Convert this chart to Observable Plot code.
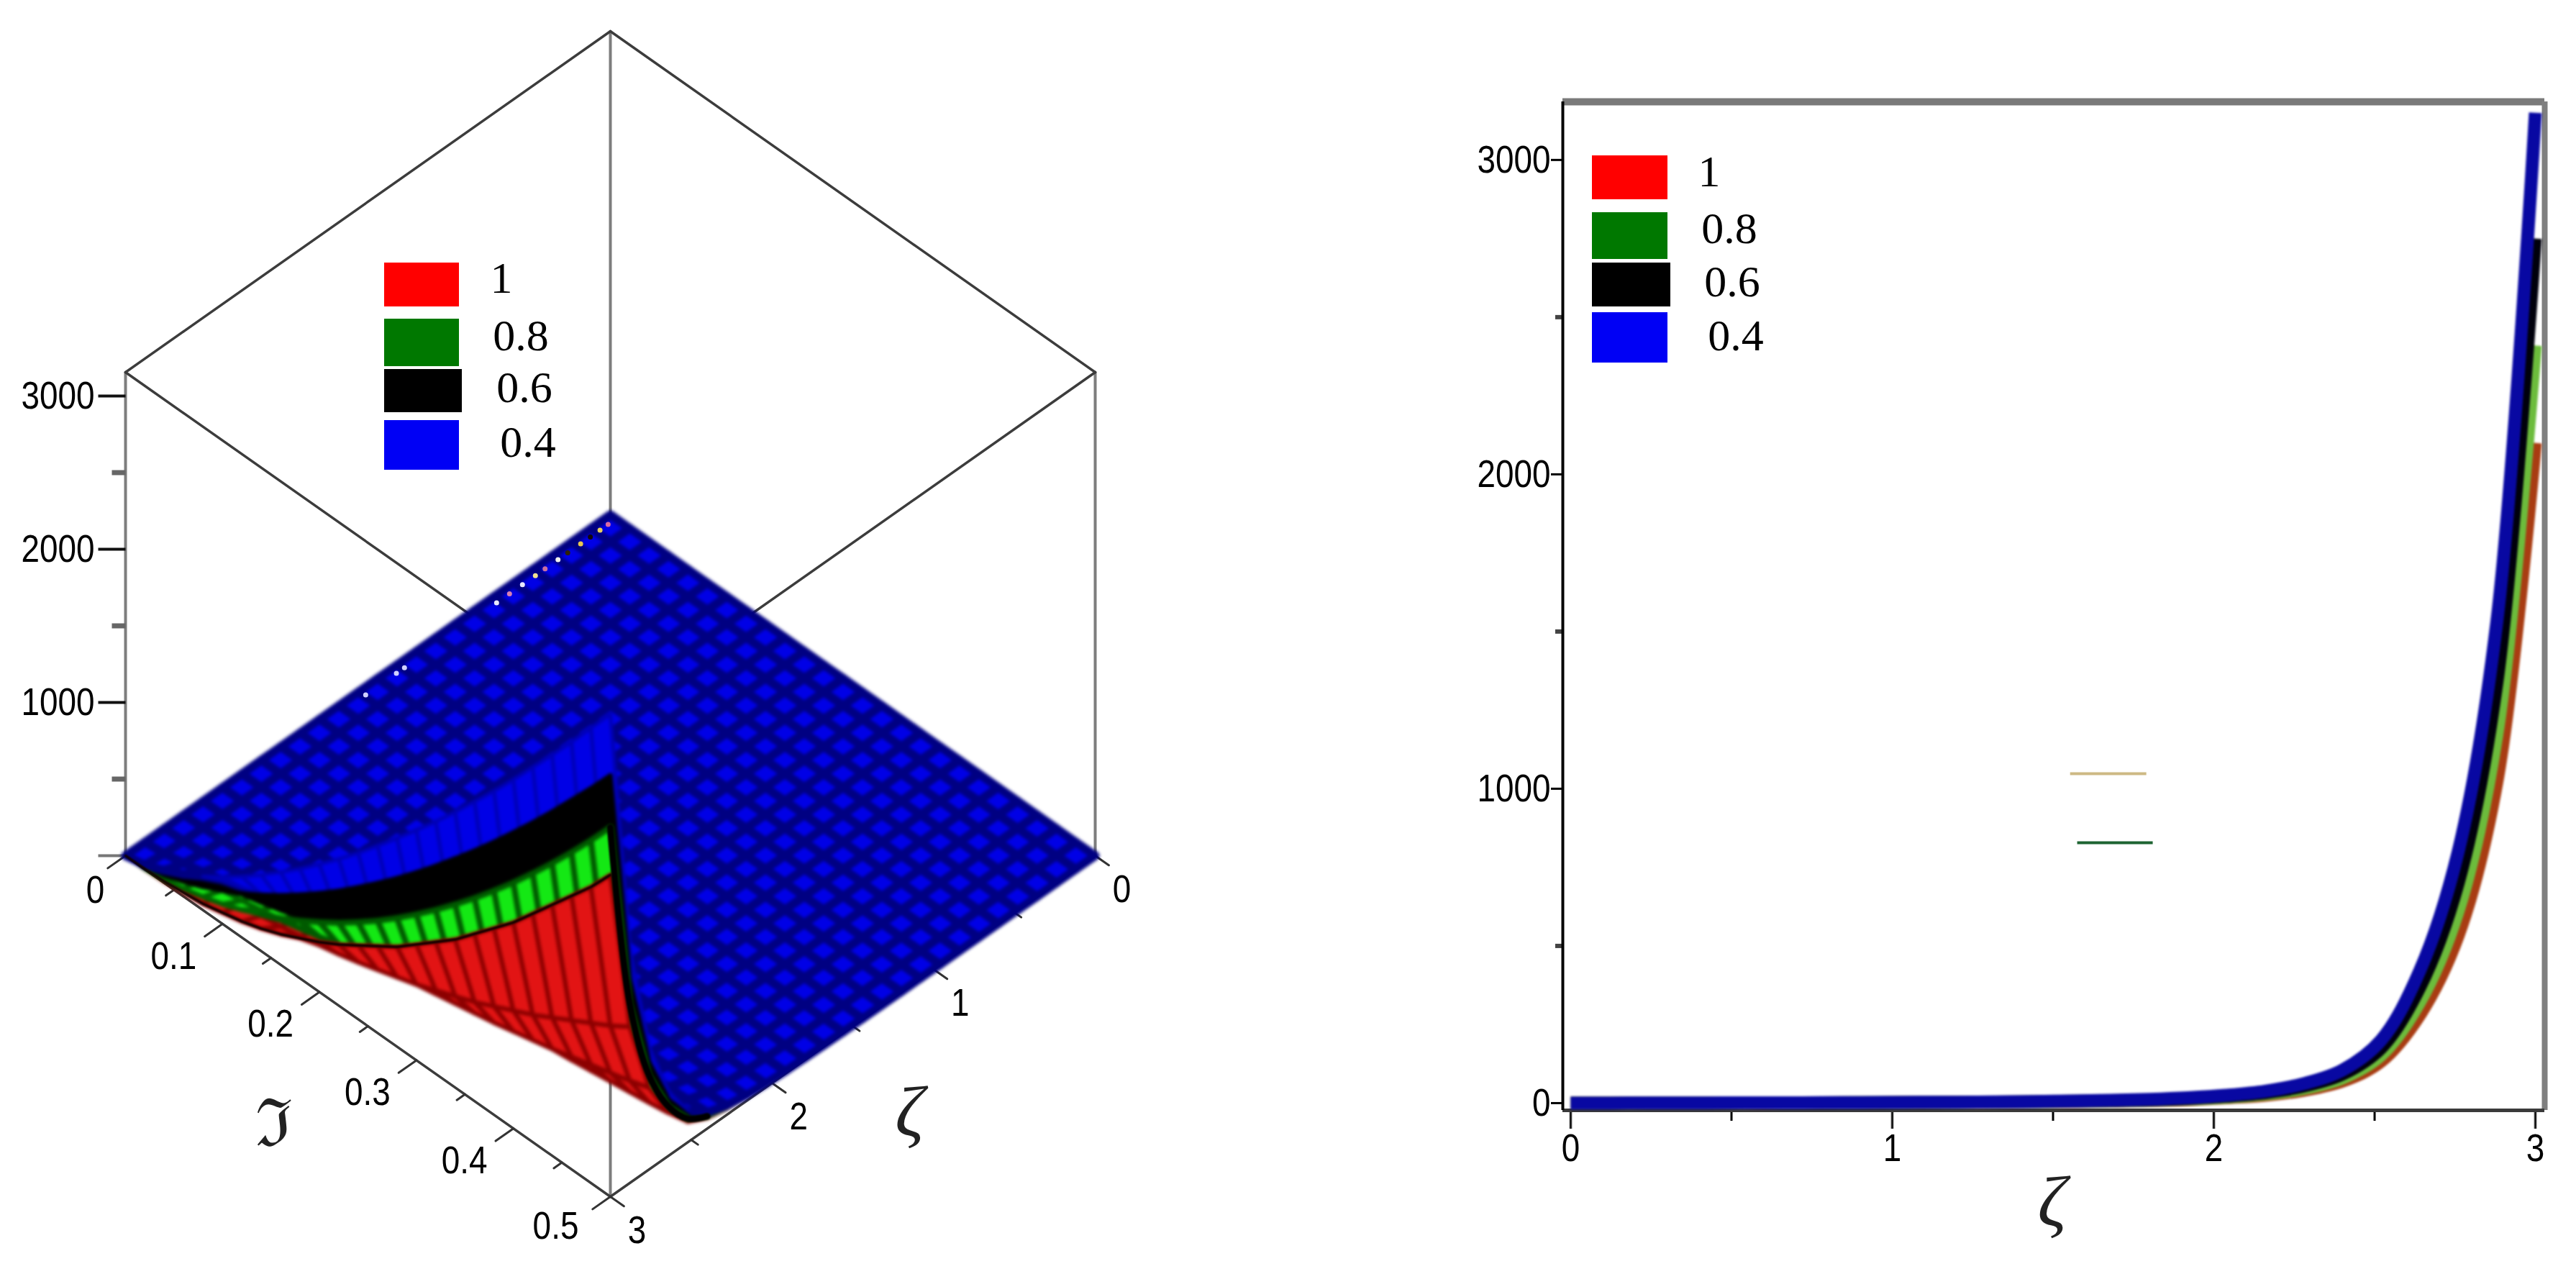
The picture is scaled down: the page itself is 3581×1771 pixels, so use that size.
<!DOCTYPE html>
<html>
<head>
<meta charset="utf-8">
<script src="https://cdn.jsdelivr.net/npm/d3@7"></script>
<script src="https://cdn.jsdelivr.net/npm/@observablehq/plot@0.6"></script>
<style>
html,body{margin:0;background:#fff;overflow:hidden}
#page{position:relative;width:3581px;height:1771px;overflow:hidden;background:#fff}
#page svg{position:absolute;top:0;background:transparent}
.swatch{position:absolute}
.lg{position:absolute;font-family:"Liberation Serif",serif;font-size:62px;line-height:1;transform:translate(-50%,-50%);color:#000;filter:blur(.6px)}
</style>
</head>
<body>
<div id="page"></div>
<script>
// ---------- values ----------
const zeta = [0,.12,.24,.36,.48,.6,.72,.84,.96,1.08,1.2,1.32,1.44,1.56,1.68,1.8,1.92,2.04,2.16,2.28,2.4,2.52,2.64,2.76,2.88,3];
const blue04  = [0,.1,.3,.5,.8,1,1.3,1.6,2,2.5,3,4,5,7,9,12,17,25,38,62,105,200,420,800,1530,3150];
const black06 = [0,.1,.3,.4,.7,.9,1.1,1.4,1.7,2.2,2.6,3.5,4.4,6,8,10,15,22,33,54,92,175,367,700,1335,2750];
const green08 = [0,.1,.2,.4,.6,.8,1,1.2,1.5,1.9,2.3,3,3.8,5.4,7,9,13,19,29,47,80,153,321,612,1170,2410];
const red1    = [0,.1,.2,.3,.5,.7,.9,1.1,1.3,1.7,2,2.7,3.3,4.7,6,8,11,17,25,41,70,133,280,533,1020,2100];
const theta   = [0,.02,.04,.06,.08,.1,.12,.14,.16,.18,.2,.22,.24,.26,.28,.3,.32,.34,.36,.38,.4,.42,.44,.46,.48,.5];
// share of the ζ = 3 height reached at each theta, per surface
const edgeRed   = [0,.001,.005,.012,.02,.035,.05,.07,.095,.125,.155,.19,.23,.27,.31,.36,.41,.46,.52,.58,.64,.71,.78,.85,.92,1];
const edgeGreen = [0,.003,.01,.021,.036,.053,.075,.099,.126,.156,.189,.224,.263,.304,.348,.395,.444,.496,.55,.607,.666,.728,.792,.859,.928,1];
const edgeBlack = [0,.006,.018,.035,.055,.079,.105,.134,.165,.199,.235,.273,.314,.356,.4,.446,.494,.544,.595,.648,.703,.759,.817,.877,.937,1];
const edgeBlue  = [0,.009,.026,.046,.07,.097,.126,.158,.192,.227,.265,.304,.345,.388,.432,.477,.523,.571,.621,.671,.723,.777,.831,.886,.943,1];

const legendValues = ["1","0.8","0.6","0.4"];
const legendColors = ["#ff0000","#007800","#000000","#0000f5"];

const zMajor = [0,1000,2000,3000];
const zMinor = [500,1500,2500];
const zetaMajor = [0,1,2,3];
const zetaMinor = [.5,1.5,2.5];
const thetaMajor = [0,.1,.2,.3,.4,.5];
const thetaMinor = [.05,.15,.25,.35,.45];
const zTop = 3155;

const speckZeta  = [.05,.1,.16,.22,.3,.36,.44,.5,.58,.66,.74,1.31,1.36,1.55];
const speckColor = ["#d86aa0","#e8d060","#140808","#e8c850","#302008","#f0f0f0","#c870a0","#f0e090","#e8e8ff","#d880b0","#e8e8ff","#d0d0ff","#d0d0ff","#d0d0ff"];

const strayZeta = [[1.553,1.79],[1.575,1.81]];
const strayZ = [1048,828];
const strayColor = ["#cdb984","#1e6432"];

// ---------- 3-D view of the left panel ----------
const project = (z, t, h) => [
  848 - 674 * z / 3 + 674 * t / .5,
  715 + 474 * z / 3 + 474 * t / .5 - 0.213 * h
];
const px = d => project(d[0], d[1], d[2])[0];
const py = d => project(d[0], d[1], d[2])[1];

const surfaces = [
  {values: red1,    edge: edgeRed,   fill: "#e21414", stroke: "#8c0000", width: 6, wall: "#8c0000", wallWidth: 6},
  {values: green08, edge: edgeGreen, fill: "#14e814", stroke: "#006400", width: 7, wall: "#005a00", wallWidth: 8},
  {values: black06, edge: edgeBlack, fill: "#000000", stroke: "#000000", width: 6, wall: "#000000", wallWidth: 6},
  {values: blue04,  edge: edgeBlue,  fill: "#0000e6", stroke: "#000082", width: 12, wall: "#0000b4", wallWidth: 5}
];

function buildMesh() {
  const front = [], back = [];
  surfaces.forEach(s => {
    const f = [], b = [];
    for (let i = 0; i < zeta.length - 1; i++) for (let j = 0; j < theta.length - 1; j++) {
      const corner = (a, c) => [zeta[a], theta[c], s.values[a] * s.edge[c]];
      const q = [corner(i, j), corner(i + 1, j), corner(i + 1, j + 1), corner(i, j + 1)];
      const sp = q.map(p => project(...p));
      let area = 0;
      for (let n = 0; n < 4; n++) {
        const [x0, y0] = sp[n], [x1, y1] = sp[(n + 1) % 4];
        area += x0 * y1 - x1 * y0;
      }
      const depth = d3.mean(q, p => project(p[0], p[1], 0)[1] + .213 * p[2]);
      (area > 0 ? b : f).push({q, depth, s, wall: area > 0});
    }
    f.sort((a, c) => a.depth - c.depth);
    b.sort((a, c) => a.depth - c.depth);
    front.push(f); back.push(b);
  });
  const order = [...front[0], ...front[1], ...front[2], ...front[3], ...back[3], ...back[2], ...back[1], ...back[0]];
  const rows = [];
  order.forEach((c, id) => {
    const stroke = c.wall ? c.s.wall : c.s.stroke;
    const width = c.wall ? c.s.wallWidth : c.s.width;
    for (const p of [...c.q, c.q[0]]) rows.push({p, id, fill: c.s.fill, stroke, width});
  });
  return rows;
}
const meshRows = buildMesh();

const boxCorners = {
  apex: [0, 0, zTop], left: [3, 0, zTop], right: [0, .5, zTop], front: [3, .5, zTop],
  backFloor: [0, 0, 0], leftFloor: [3, 0, 0], rightFloor: [0, .5, 0], frontFloor: [3, .5, 0]
};
const boxEdges = [
  ["apex","left"],["apex","right"],["left","front"],["right","front"],
  ["leftFloor","frontFloor"],["rightFloor","frontFloor"]
];
const boxPosts = [["apex","backFloor"],["left","leftFloor"],["right","rightFloor"],["front","frontFloor"]];
const segRows = edges => edges.flatMap((e, i) => e.map(n => ({p: boxCorners[n], id: i})));

const thetaTicks = (vals, len) => vals.flatMap((t, i) => [{p: [3, t, 0], id: i}, {p: [3 + len, t, 0], id: i}]);
const zetaTicks = (vals, len) => vals.flatMap((z, i) => [{p: [z, .5, 0], id: i}, {p: [z, .5 + len, 0], id: i}]);
const lineP = (rows, o) => Plot.line(rows, {x: d => px(d.p), y: d => py(d.p), z: "id", ...o});

// dark seams: the ϑ = 0.5 side of the walls and the rim of the red wall
const seamRows = zeta.map((z, i) => ({p: [z, .5, green08[i]]})).slice(20);
const rimRows = theta.map((t, j) => ({p: [3, t, red1[25] * edgeRed[j]]}));
const labelOffset = v => v === 0 ? [-42, 48] : v === .5 ? [-76, 41] : [-68, 45];

const leftPlot = Plot.plot({
  width: 1790, height: 1771, margin: 0,
  x: {type: "linear", domain: [0, 1790], range: [0, 1790], axis: null},
  y: {type: "linear", domain: [0, 1771], range: [0, 1771], axis: null},
  color: {type: "identity"},
  style: {background: "transparent", fontFamily: "'Liberation Sans',sans-serif"},
  marks: [
    lineP(segRows(boxPosts), {stroke: "#7d7d7d", strokeWidth: 4}),
    lineP(segRows(boxEdges), {stroke: "#3c3c3c", strokeWidth: 3.5}),
    Plot.line(zMajor.flatMap((v, i) => [{v, id: i, o: -38}, {v, id: i, o: 0}]), {
      x: d => project(3, 0, d.v)[0] + d.o, y: d => project(3, 0, d.v)[1], z: "id",
      stroke: d => d.v === 0 ? "#777" : "#111", strokeWidth: 4, strokeLinecap: "butt"}),
    Plot.line(zMinor.flatMap((v, i) => [{v, id: i, o: -19}, {v, id: i, o: 0}]), {
      x: d => project(3, 0, d.v)[0] + d.o, y: d => project(3, 0, d.v)[1], z: "id",
      stroke: "#666", strokeWidth: 7, strokeLinecap: "butt"}),
    lineP(thetaTicks(thetaMajor, .11), {stroke: "#333", strokeWidth: 3}),
    lineP(thetaTicks(thetaMinor, .05), {stroke: "#333", strokeWidth: 3}),
    lineP(zetaTicks(zetaMajor, .014), {stroke: "#333", strokeWidth: 3}),
    lineP(zetaTicks(zetaMinor, .007), {stroke: "#333", strokeWidth: 3}),
    Plot.line(meshRows, {
      x: d => px(d.p), y: d => py(d.p), z: "id",
      fill: d => d.fill, stroke: d => d.stroke, strokeWidth: d => d.width,
      imageFilter: "blur(2px)"
    }),
    Plot.line(seamRows, {x: d => px(d.p), y: d => py(d.p), stroke: "#000", strokeWidth: 9, curve: "catmull-rom", imageFilter: "blur(1.2px)"}),
    Plot.line(rimRows, {x: d => px(d.p), y: d => py(d.p), stroke: "#100000", strokeWidth: 3.5, imageFilter: "blur(.8px)"}),
    Plot.dot(speckZeta.map((z, i) => ({z, c: speckColor[i]})), {
      x: d => project(d.z, .006, 0)[0], y: d => project(d.z, .006, 0)[1], r: 3.5, fill: "c", stroke: "none"}),
    Plot.text(zMajor.slice(1), {
      x: d => project(3, 0, d)[0] - 43, y: d => project(3, 0, d)[1], text: d => String(d),
      textAnchor: "end", fontSize: 54, fill: "#000", imageFilter: "blur(.6px)"}),
    Plot.text(thetaMajor, {
      x: d => project(3, d, 0)[0] + labelOffset(d)[0], y: d => project(3, d, 0)[1] + labelOffset(d)[1],
      text: d => String(d), fontSize: 54, fill: "#000", imageFilter: "blur(.6px)"}),
    Plot.text(zetaMajor, {
      x: d => project(d, .5, 0)[0] + 37, y: d => project(d, .5, 0)[1] + 47,
      text: d => String(d), fontSize: 54, fill: "#000", imageFilter: "blur(.6px)"}),
    Plot.text(["ζ"], {x: () => 1264, y: () => 1546, text: d => d, fontSize: 100, fontStyle: "italic", fontFamily: "'Liberation Serif',serif", fill: "#222"}),
    Plot.text(["ℑ"], {x: () => 380, y: () => 1563, text: d => d, fontSize: 92, fontFamily: "'DejaVu Serif',serif", fill: "#222"})
  ]
});

// ---------- planar view of the right panel ----------
const series = [
  {values: red1,    stroke: "#a83c12"},
  {values: green08, stroke: "#6cbc3c"},
  {values: black06, stroke: "#00000c"},
  {values: blue04,  stroke: "#0808a2"}
];
const lineRows = series.flatMap((s, k) => zeta.map((x, i) => ({x, y: s.values[i], k, stroke: s.stroke})));
const xLimits = [-.0246, 3.029], yLimits = [-23, 3185];

const rightPlot = Plot.plot({
  width: 1791, height: 1771,
  marginLeft: 382, marginRight: 44, marginTop: 141, marginBottom: 228,
  x: {domain: xLimits, axis: null},
  y: {domain: yLimits, axis: null},
  color: {type: "identity"},
  style: {background: "transparent", fontFamily: "'Liberation Sans',sans-serif", color: "#000"},
  marks: [
    Plot.axisY({ticks: zMajor, tickSize: 16, tickPadding: 1, fontSize: 54, label: null, tickFormat: d => String(d), strokeWidth: 3, imageFilter: "blur(.6px)"}),
    Plot.axisY({ticks: zMinor, tickSize: 10, tickFormat: () => null, label: null, strokeWidth: 6, stroke: "#444"}),
    Plot.axisX({ticks: zetaMajor, tickSize: 26, tickPadding: 6, fontSize: 54, label: null, tickFormat: d => String(d), strokeWidth: 3, imageFilter: "blur(.6px)"}),
    Plot.axisX({ticks: zetaMinor, tickSize: 15, tickFormat: () => null, label: null, strokeWidth: 3}),
    Plot.ruleY([yLimits[1]], {stroke: "#7a7a7a", strokeWidth: 10}),
    Plot.ruleX([xLimits[1]], {stroke: "#7f7f7f", strokeWidth: 8}),
    Plot.ruleY([yLimits[0]], {stroke: "#3a3a3a", strokeWidth: 5}),
    Plot.ruleX([xLimits[0]], {stroke: "#000", strokeWidth: 4}),
    Plot.line(lineRows, {x: "x", y: "y", z: "k", stroke: "stroke", strokeWidth: 18, curve: "catmull-rom", strokeLinecap: "butt", imageFilter: "blur(1.4px)"}),
    Plot.line(strayZeta.flatMap((r, i) => r.map(x => ({x, y: strayZ[i], i, c: strayColor[i]}))), {x: "x", y: "y", z: "i", stroke: "c", strokeWidth: 4, strokeLinecap: "butt"}),
    Plot.text(["ζ"], {x: () => 1.497, frameAnchor: "bottom", dy: 160, text: d => d, fontSize: 100, fontStyle: "italic", fontFamily: "'Liberation Serif',serif", fill: "#222"})
  ]
});

// ---------- assemble ----------
const page = document.getElementById("page");
leftPlot.style.left = "0px";
rightPlot.style.left = "1790px";
page.append(leftPlot, rightPlot);

// the tick digits of the reference are tall and condensed
for (const t of page.querySelectorAll("svg text")) {
  if (/^[\d.]+$/.test(t.textContent)) {
    t.setAttribute("textLength", (t.getComputedTextLength() * .85).toFixed(1));
    t.setAttribute("lengthAdjust", "spacingAndGlyphs");
  }
}

function legend(boxes, labels, x0, x1) {
  legendValues.forEach((v, i) => {
    const b = document.createElement("div");
    b.className = "swatch";
    b.style.cssText = `left:${x0}px;width:${x1 - x0 + (i === 2 ? 4 : 0)}px;top:${boxes[i][0]}px;height:${boxes[i][1] - boxes[i][0]}px;background:${legendColors[i]}`;
    page.append(b);
    const t = document.createElement("div");
    t.className = "lg";
    t.textContent = v;
    t.style.left = labels[i][0] + "px";
    t.style.top = labels[i][1] + "px";
    page.append(t);
  });
}
legend([[365,426],[443,509],[513,573],[584,653]], [[697,386],[724,466],[729,538],[734,614]], 534, 638);
legend([[216,277],[295,360],[365,426],[434,504]], [[2376,238],[2404,317],[2408,391],[2413,466]], 2213, 2318);
</script>
</body>
</html>
